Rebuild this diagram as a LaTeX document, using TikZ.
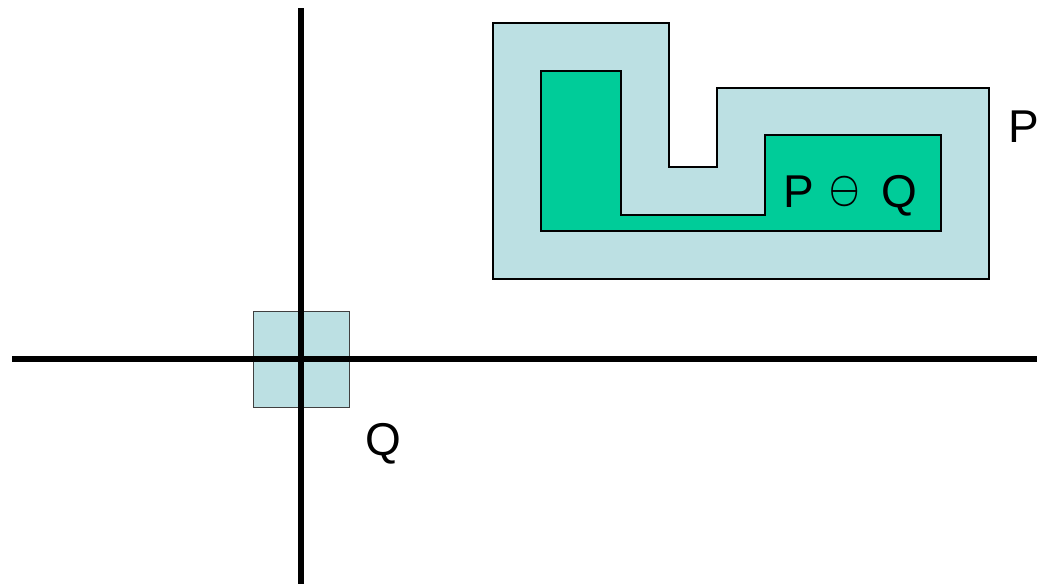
\documentclass[tikz,border=0pt]{standalone}
\usepackage{fontspec}
\setmainfont{Liberation Sans}
\definecolor{paleblue}{RGB}{188,224,227}
\definecolor{seagreen}{RGB}{0,204,153}
\newcommand{\erodeop}{\raisebox{6pt}{\scalebox{3.4}[4]{\normalsize\boldmath$\ominus$}}}
\begin{document}
\begin{tikzpicture}[x=1pt,y=-1pt,
  shapeline/.style={draw=black,line width=1.6pt,line join=miter},
  axisline/.style={draw=black,line width=5.5pt},
  lbl/.style={font=\fontsize{46}{46}\selectfont,inner sep=0pt,text=black}]
\useasboundingbox (0,0) rectangle (1037,584);
% dilated set P
\path[shapeline,fill=paleblue] (493,23) -- (669,23) -- (669,167) -- (717,167)
  -- (717,88) -- (989,88) -- (989,279) -- (493,279) -- cycle;
\draw[line width=2.3pt] (556,279) -- (989,279);
% eroded set P minus Q
\path[shapeline,fill=seagreen] (541,71) -- (621,71) -- (621,215) -- (765,215)
  -- (765,135) -- (941,135) -- (941,231) -- (541,231) -- cycle;
% structuring element Q
\path[draw=black!75,line width=1pt,fill=paleblue] (253,311) rectangle (349,407);
% axes
\coordinate (xl) at (12,359);
\coordinate (xr) at (1037,359);
\coordinate (yt) at (301,8);
\coordinate (yb) at (301,584);
\draw[axisline] (xl) -- (xr);
\draw[axisline] (yt) -- (yb);
% labels
\node[lbl,anchor=base west] (labP) at (1008,142) {P};
\node[lbl,anchor=base] (labQ) at (383,455) {Q};
\node[lbl,anchor=base west] (labPQ) at (783,207.5)
  {P\hspace{16pt}\erodeop\hspace{21pt}Q};
\end{tikzpicture}
\end{document}
